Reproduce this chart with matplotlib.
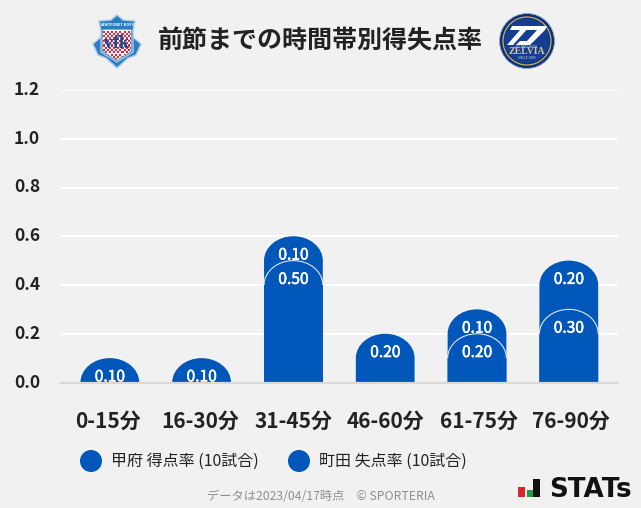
import matplotlib
matplotlib.use("Agg")
import matplotlib.pyplot as plt
import matplotlib.patheffects as pe
from matplotlib.path import Path
from matplotlib.patches import PathPatch, Polygon, Circle, Rectangle
from matplotlib.transforms import ScaledTranslation

plt.rcParams['font.family'] = ['Noto Sans CJK JP', 'DejaVu Sans']

W, H = 641, 508
BG = '#f1f1f1'
BLUE = '#0056b9'

# data
categories = ['0-15分', '16-30分', '31-45分', '46-60分', '61-75分', '76-90分']
kofu_scored = [0.10, 0.10, 0.50, 0.20, 0.20, 0.30]
machida_conceded = [0.00, 0.00, 0.10, 0.00, 0.10, 0.20]
y_ticks = [0.0, 0.2, 0.4, 0.6, 0.8, 1.0, 1.2]
title = '前節までの時間帯別得失点率'
legend_labels = ['甲府 得点率 (10試合)', '町田 失点率 (10試合)']
footer = 'データは2023/04/17時点\u3000© SPORTERIA'

BAR_W = 0.64
CAP = 0.10  # height of the rounded top, in value units
K = 0.5523


def top_arc(x, top):
    rx = BAR_W / 2
    return [(x - rx, top - CAP),
            (x - rx, top - CAP + K * CAP), (x - K * rx, top), (x, top),
            (x + K * rx, top), (x + rx, top - CAP + K * CAP), (x + rx, top - CAP)]


def rounded_bar(ax, x, top, **kw):
    # bar with an elliptical top, drawn in data coordinates
    rx = BAR_W / 2
    verts = [(x - rx, 0)] + top_arc(x, top) + [(x + rx, 0), (x - rx, 0)]
    codes = [Path.MOVETO, Path.LINETO] + [Path.CURVE4] * 6 + [Path.LINETO, Path.CLOSEPOLY]
    ax.add_patch(PathPatch(Path(verts, codes), facecolor=BLUE, edgecolor='none', **kw))


def bar_label(ax, x, y, value):
    t = ax.annotate('%.2f' % value, (x, y), xytext=(0, -13.5), textcoords='offset points',
                    ha='center', va='center', color='white', fontsize=11.2, zorder=4)
    t.set_path_effects([pe.withStroke(linewidth=0.4, foreground='white')])


fig = plt.figure(figsize=(W / 100, H / 100), dpi=100, facecolor=BG)

# pixel-space layer for the logos and free text
bg = fig.add_axes([0, 0, 1, 1])
bg.set_xlim(0, W)
bg.set_ylim(H, 0)
bg.axis('off')

# main chart
ax = fig.add_axes([61 / W, 1 - 382.5 / H, 557 / W, 292.5 / H])
ax.patch.set_alpha(0)
ax.set_xlim(-0.532, 5.536)
ax.set_ylim(0, 1.2)
ax.set_yticks(y_ticks)
ax.set_yticklabels(['%.1f' % v for v in y_ticks], fontsize=12.5, fontweight='bold', color='#222222')
ax.set_xticks(range(len(categories)))
ax.set_xticklabels(categories, fontsize=15, fontweight='bold', color='#222222')
ax.tick_params(axis='x', length=0, pad=20.7)
ax.tick_params(axis='y', length=0, pad=15)
ax.grid(axis='y', color='white', lw=1.5, zorder=1)
ax.set_axisbelow(True)
for name in ['top', 'left', 'right']:
    ax.spines[name].set_visible(False)
ax.spines['bottom'].set_color('#d8d8d8')
ax.spines['bottom'].set_linewidth(1.6)
ax.spines['bottom'].set_zorder(5)

# the category labels sit a little wider apart than the bars
for lab, dx in zip(ax.get_xticklabels(), [-2, -1.5, 0, 0, 1.5, 2]):
    lab.set_transform(lab.get_transform() + ScaledTranslation(dx / 100, 0, fig.dpi_scale_trans))
for lab in ax.get_yticklabels():
    lab.set_transform(lab.get_transform() + ScaledTranslation(0, 2 / 100, fig.dpi_scale_trans))

for i, (low, up) in enumerate(zip(kofu_scored, machida_conceded)):
    total = low + up
    if up > 0:
        rounded_bar(ax, i, total, zorder=2)
    rounded_bar(ax, i, low, zorder=3)
    if up > 0:
        arc = Path(top_arc(i, low), [Path.MOVETO] + [Path.CURVE4] * 6)
        ax.add_patch(PathPatch(arc, facecolor='none', edgecolor='#dfe8f4', lw=0.8, zorder=3.5))
        bar_label(ax, i, total, up)
    bar_label(ax, i, low, low)

# title
bg.text(320.5, 41, title, ha='center', va='center', fontsize=18, fontweight='bold', color='#222222')

# legend
for cx, tx, label in zip([91, 299], [111, 319], legend_labels):
    bg.add_patch(Circle((cx, 461), 11, color=BLUE, lw=0))
    bg.text(tx, 461, label, ha='left', va='center', fontsize=11.5, color='#222222')

# footer
bg.text(320.5, 497, footer, ha='center', va='center', fontsize=8.8, color='#8f8f8f')

# STATs logo
bg.add_patch(Rectangle((518, 487), 7, 10, color='#d8262c', lw=0))
bg.add_patch(Rectangle((527, 490), 5.5, 7, color='#1f9a4a', lw=0))
bg.add_patch(Rectangle((533, 479), 6.5, 18, color='#111111', lw=0))
bg.text(549, 497, 'STATs', ha='left', va='baseline', fontsize=18.8, fontweight='bold',
        color='#111111', family='DejaVu Sans')

# Kofu crest
ribbon = Polygon([(93, 44), (100, 38), (117, 48), (134, 38), (141, 44), (136, 55), (128, 58),
                  (117, 68), (106, 58), (98, 55)], closed=True,
                 facecolor='#2a7fc4', edgecolor='#a9cbe6', lw=1)
bg.add_patch(ribbon)
head = Polygon([(117, 15), (123, 20), (135, 21), (133, 30), (133, 52), (117, 62), (101, 52), (101, 30), (99, 21), (111, 20)],
               closed=True, facecolor='#2a7fc4', edgecolor='#a9cbe6', lw=1)
bg.add_patch(head)
field = Polygon([(103, 30), (131, 30), (131, 51), (117, 60), (103, 51)], closed=True,
                facecolor='#f6f2f2', edgecolor='white', lw=0.5)
bg.add_patch(field)
for r in range(13):
    for c in range(14):
        if (r + c) % 2 == 0:
            sq = Rectangle((103 + c * 2.05, 30.5 + r * 2.3), 2.05, 2.3, color='#cf2f48', lw=0)
            bg.add_patch(sq)
            sq.set_clip_path(field)
bg.text(117, 43, 'vfk', ha='center', va='center', fontsize=13, fontweight='bold',
        family='Liberation Serif', color='#0f4c96')
bg.text(117, 25.5, 'VENTFORET KOFU', ha='center', va='center', fontsize=2.8, color='white', fontweight='bold')

# Machida crest
bg.add_patch(Circle((527, 41), 27.5, facecolor='#0d2f77', edgecolor='#8fa6cc', lw=0.6))
bg.add_patch(Circle((527, 41), 24, facecolor='none', edgecolor='#c9b25a', lw=0.9))
bg.add_patch(Circle((527, 41), 22.5, facecolor='#143e92', edgecolor='none'))
bg.add_patch(Polygon([(512, 26), (530, 26), (513, 45), (507, 45), (520, 30), (510, 30)],
                     closed=True, facecolor='white', lw=0))
bg.add_patch(Polygon([(526, 26), (547, 26), (545, 30), (530, 45), (516, 45), (520, 41), (527, 41), (537, 30), (523, 30)],
                     closed=True, facecolor='white', lw=0))
bg.text(527, 52, 'ZELVIA', ha='center', va='center', fontsize=7, fontweight='bold',
        family='Liberation Serif', color='#d8c98a')
bg.text(527, 47, 'FC MACHIDA', ha='center', va='center', fontsize=2.6, color='#d8d8d8')
bg.text(527, 58, 'SINCE 1989', ha='center', va='center', fontsize=2.4, color='#d8d8d8')

fig.savefig('out.png', dpi=100, facecolor=BG)
